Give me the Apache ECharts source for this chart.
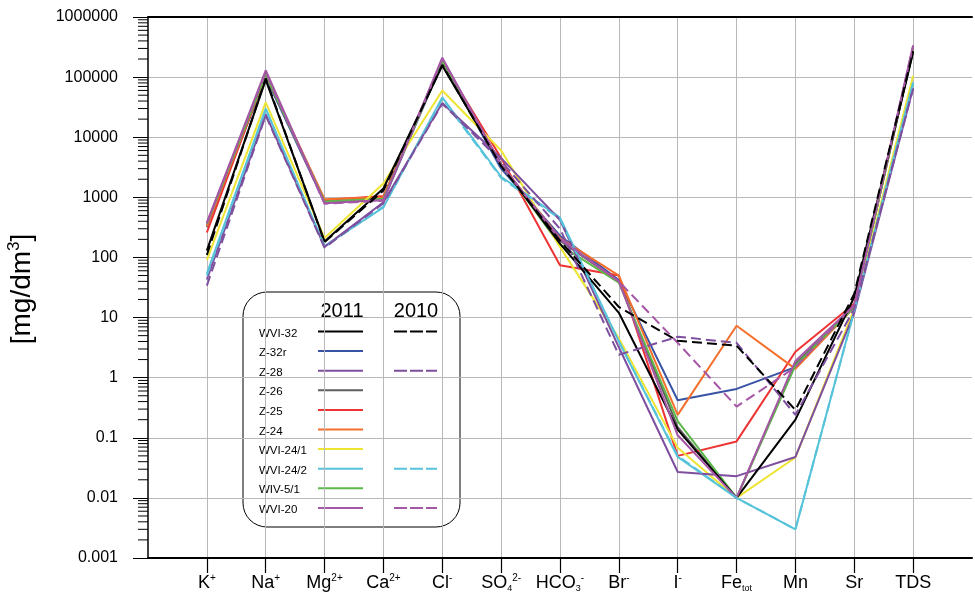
<!DOCTYPE html>
<html><head><meta charset="utf-8">
<script src="https://cdn.jsdelivr.net/npm/echarts@6/dist/echarts.min.js"></script>
<style>html,body{margin:0;padding:0;background:#fff}#c{width:975px;height:599px}</style>
</head><body><div id="c"></div>
<script>
// categories (padded with empty slots at both ends)
const categories = ['', 'K+', 'Na+', 'Mg2+', 'Ca2+', 'Cl-', 'SO42-', 'HCO3-', 'Br-', 'I-', 'Fe_tot', 'Mn', 'Sr', 'TDS', ''];
const tickLabels = ['', '{m|K}{sup|+}', '{m|Na}{sup|+}', '{m|Mg}{sup|2+}', '{m|Ca}{sup|2+}', '{m|Cl}{sup|-}',
  '{m|SO}{sub|4}{sup|2-}', '{m|HCO}{sub|3}{sup|-}', '{m|Br}{sup|-}', '{m|I}{sup|-}', '{m|Fe}{sub|tot}',
  '{m|Mn}', '{m|Sr}', '{m|TDS}', ''];
const yMin = 0.001, yMax = 1000000;

// values: K, Na, Mg, Ca, Cl, SO4, HCO3, Br, I, Fe, Mn, Sr, TDS  [mg/dm3]
const Z32r_2011   = [320, 100000, 820, 900, 175000, 3000, 230, 42, 0.42, 0.65, 1.5, 15, 290000];
const Z26_2011    = [350, 115000, 850, 950, 185000, 3500, 190, 40, 0.15, 0.01, 1.7, 15, 310000];
const Z25_2011    = [260, 110000, 900, 1050, 180000, 4500, 74, 50, 0.05, 0.087, 2.7, 17, 300000];
const Z24_2011    = [330, 110000, 930, 1000, 180000, 3500, 210, 50, 0.24, 7.3, 1.4, 15, 300000];
const WIV51_2011  = [360, 110000, 850, 950, 180000, 3500, 160, 38, 0.19, 0.01, 1.6, 15, 300000];
const WVI241_2011 = [90, 38000, 210, 1700, 60000, 6000, 150, 4.5, 0.068, 0.01, 0.047, 14, 105000];
const WVI242_2011 = [54, 30000, 155, 680, 46000, 2200, 460, 4, 0.048, 0.01, 0.003, 13, 82000];
const Z28_2011    = [43, 24000, 150, 830, 37000, 4500, 420, 3.2, 0.027, 0.023, 0.048, 12, 66000];
const WVI32_2011  = [130, 90000, 185, 1400, 155000, 3500, 170, 12, 0.137, 0.01, 0.2, 22, 260000];
const WVI20_2011  = [380, 130000, 800, 900, 210000, 3500, 200, 40, 0.11, 0.01, 1.9, 16, 340000];
const WVI32_2010  = [110, 95000, 180, 1300, 160000, 3300, 190, 15, 4.1, 3.4, 0.29, 25, 270000];
const Z28_2010    = [34, 23000, 145, 800, 36000, 4000, 300, 2.4, 4.8, 3.8, 0.24, 14, 64000];
const WVI242_2010 = [50, 29000, 150, 700, 44000, 2100, 440, 4, 0.05, 0.01, 0.003, 13, 78000];
const WVI20_2010  = [370, 120000, 780, 880, 200000, 3400, 210, 40, 3.8, 0.33, 1.5, 16, 330000];

const C = {
  black:'#000000', blue:'#3953a4', purple:'#7e4f9e', gray:'#5e5e5e', red:'#ee3333',
  orange:'#f36f2b', yellow:'#eee432', cyan:'#56c3da', green:'#5cb84a', magenta:'#a556a5'
};

const seriesDefs = [
  {name:'Z-32r 2011', color:C.blue, dash:false, data:Z32r_2011},
  {name:'Z-26 2011', color:C.gray, dash:false, data:Z26_2011},
  {name:'Z-25 2011', color:C.red, dash:false, data:Z25_2011},
  {name:'Z-24 2011', color:C.orange, dash:false, data:Z24_2011},
  {name:'WIV-5/1 2011', color:C.green, dash:false, data:WIV51_2011},
  {name:'WVI-24/1 2011', color:C.yellow, dash:false, data:WVI241_2011},
  {name:'WVI-24/2 2011', color:C.cyan, dash:false, data:WVI242_2011},
  {name:'Z-28 2011', color:C.purple, dash:false, data:Z28_2011},
  {name:'WVI-32 2011', color:C.black, dash:false, data:WVI32_2011},
  {name:'WVI-20 2011', color:C.magenta, dash:false, data:WVI20_2011},
  {name:'WVI-24/2 2010', color:C.cyan, dash:true, data:WVI242_2010},
  {name:'Z-28 2010', color:C.purple, dash:true, data:Z28_2010},
  {name:'WVI-20 2010', color:C.magenta, dash:true, data:WVI20_2010},
  {name:'WVI-32 2010', color:C.black, dash:true, data:WVI32_2010}
];

const legendRows = [
  {name:'WVI-32', color:C.black, has2010:true},
  {name:'Z-32r', color:C.blue, has2010:false},
  {name:'Z-28', color:C.purple, has2010:true},
  {name:'Z-26', color:C.gray, has2010:false},
  {name:'Z-25', color:C.red, has2010:false},
  {name:'Z-24', color:C.orange, has2010:false},
  {name:'WVI-24/1', color:C.yellow, has2010:false},
  {name:'WVI-24/2', color:C.cyan, has2010:true},
  {name:'WIV-5/1', color:C.green, has2010:false},
  {name:'WVI-20', color:C.magenta, has2010:true}
];

// minor log ticks (2..9 x 10^k)
const minorTickValues = [];
for (let k = -3; k < 6; k++) for (let m = 2; m < 10; m++) minorTickValues.push(m * Math.pow(10, k));

const FONT = '"Liberation Sans", Arial, sans-serif';
const chart = echarts.init(document.getElementById('c'), null, {renderer:'canvas'});

const lineSeries = seriesDefs.map(s => ({
  name: s.name, type:'line', data: ['-'].concat(s.data, ['-']),
  showSymbol:false, symbol:'none', animation:false, z:3,
  lineStyle:{color:s.color, width:2, type: s.dash ? [10,5] : 'solid'},
  itemStyle:{color:s.color}
}));

const legendEls = [];
const LX = 243, LY = 292;
legendEls.push({type:'rect', shape:{x:LX, y:LY, width:217, height:235, r:24},
  style:{fill:'#fff', stroke:'#000', lineWidth:1}});
legendEls.push({type:'text', x:342, y:311, style:{text:'2011', font:'20px ' + FONT, fill:'#000', align:'center', verticalAlign:'middle'}});
legendEls.push({type:'text', x:416, y:311, style:{text:'2010', font:'20px ' + FONT, fill:'#000', align:'center', verticalAlign:'middle'}});
legendRows.forEach((r, i) => {
  const y = 333.5 + i * 19.6;
  legendEls.push({type:'text', x:259, y:y, style:{text:r.name, font:'11.5px ' + FONT, fill:'#000', align:'left', verticalAlign:'middle'}});
  legendEls.push({type:'line', shape:{x1:318, y1:y - 2, x2:363, y2:y - 2}, style:{stroke:r.color, lineWidth:2}});
  if (r.has2010) legendEls.push({type:'line', shape:{x1:394, y1:y - 2, x2:437, y2:y - 2}, style:{stroke:r.color, lineWidth:2, lineDash:[13,3]}});
});

const option = {
  backgroundColor:'#fff',
  animation:false,
  grid:{left:148, top:17, right:1, bottom:41, containLabel:false},
  xAxis:[{
    type:'category', data:categories, boundaryGap:false, position:'bottom',
    axisLine:{lineStyle:{color:'#000', width:2}},
    axisTick:{show:true, length:15, inside:false, lineStyle:{color:'#000', width:1.2},
      interval:(i) => i > 0 && i < categories.length - 1, alignWithLabel:true},
    splitLine:{show:true, interval:(i) => i > 0 && i < categories.length - 1, lineStyle:{color:'#b8b8bc', width:1}},
    axisLabel:{interval:0, margin:15, color:'#000',
      formatter:(v, i) => tickLabels[i],
      rich:{
        m:{fontFamily:FONT, fontSize:18, lineHeight:20, color:'#000'},
        sup:{fontFamily:FONT, fontSize:10, lineHeight:13, verticalAlign:'top', color:'#000'},
        sub:{fontFamily:FONT, fontSize:9, lineHeight:9, verticalAlign:'bottom', color:'#000'}
      }}
  },{
    type:'category', data:categories, boundaryGap:false, position:'top',
    axisLine:{lineStyle:{color:'#000', width:2}}, axisTick:{show:false}, axisLabel:{show:false}, splitLine:{show:false}
  }],
  yAxis:{
    type:'log', logBase:10, min:yMin, max:yMax, splitNumber:10,
    axisLine:{show:true, lineStyle:{color:'#000', width:1.5}},
    axisTick:{show:true, length:15, lineStyle:{color:'#000', width:1}},
    splitLine:{show:true, lineStyle:{color:'#b8b8bc', width:1}},
    axisLabel:{margin:30, color:'#000', fontFamily:FONT, fontSize:16,
      formatter:(v) => String(Number(Number(v).toPrecision(1)))}
  },
  graphic:[
    {type:'text', x:22, y:289, rotation:Math.PI / 2, z:10,
      style:{text:'{a|[mg/dm}{s|3}{a|]}', align:'center', verticalAlign:'middle',
        rich:{a:{fontFamily:FONT, fontSize:28, fill:'#000', lineHeight:32}, s:{fontFamily:FONT, fontSize:17, fill:'#000', lineHeight:17, verticalAlign:'top'}}}},
    {type:'group', z:20, children:legendEls}
  ],
  series: lineSeries.concat([{
    type:'custom', silent:true, z:6, clip:false, animation:false,
    data:minorTickValues.map(v => [0, v]), encode:{x:0, y:1},
    renderItem:(params, api) => {
      const p = api.coord([api.value(0), api.value(1)]);
      return {type:'line', shape:{x1:p[0] - 10, y1:p[1], x2:p[0], y2:p[1]}, style:{stroke:'#000', lineWidth:1}};
    }
  }])
};
chart.setOption(option);
</script></body></html>
